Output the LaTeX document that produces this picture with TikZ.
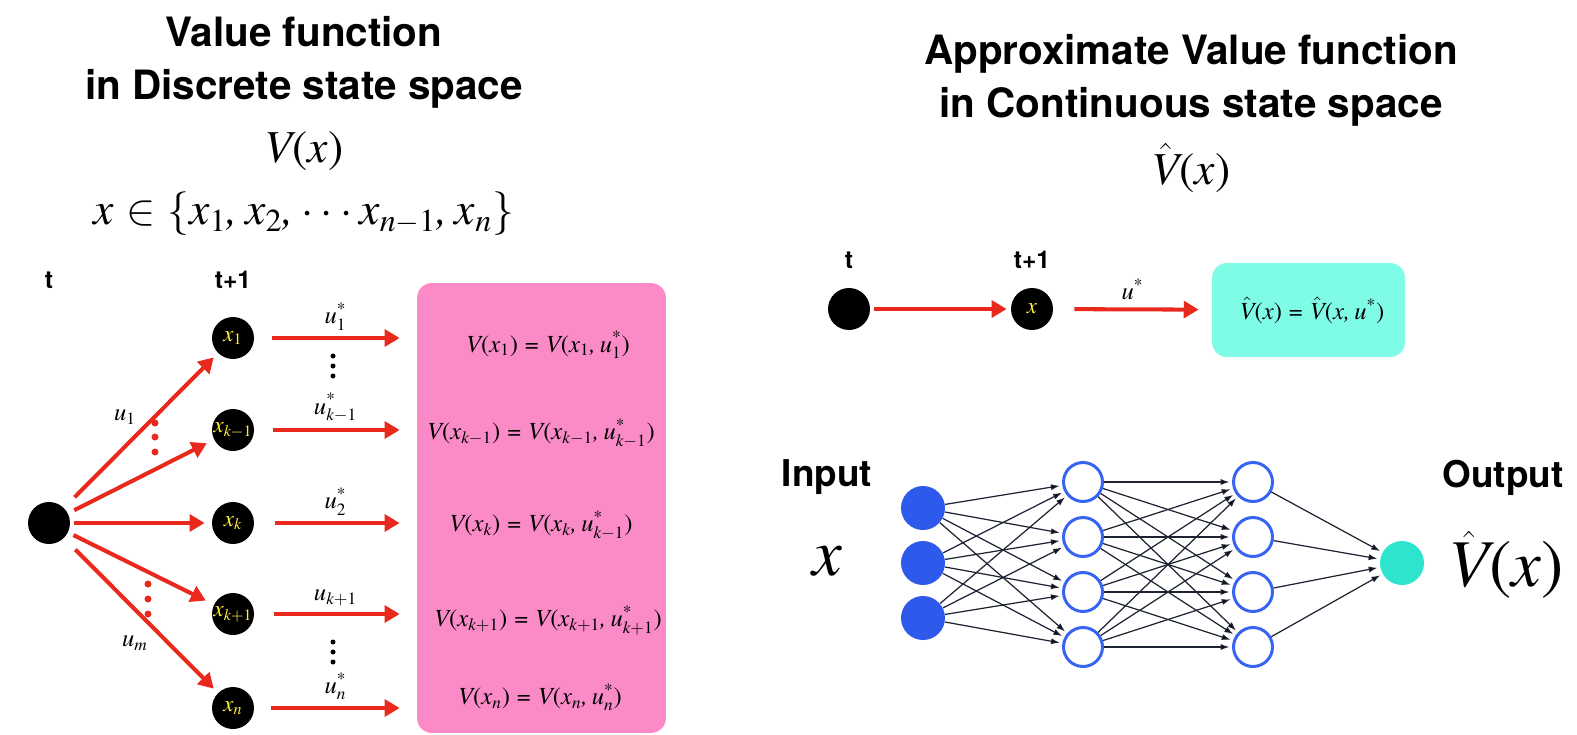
\documentclass[tikz,border=0pt]{standalone}
\usepackage{amsmath}
\usepackage[no-math]{fontspec}
\newfontfamily\headfont{TeX Gyre Heros}
\newfontfamily\letterfont{TeX Gyre Termes}[NFSSFamily=termes]
\DeclareSymbolFont{letters}{TU}{termes}{m}{it}
\DeclareSymbolFont{termesup}{TU}{termes}{m}{n}
\DeclareMathSymbol{*}{\mathord}{termesup}{"2A}
\DeclareMathSymbol{(}{\mathopen}{termesup}{"28}
\DeclareMathSymbol{)}{\mathclose}{termesup}{"29}
\DeclareMathSymbol{=}{\mathrel}{termesup}{"3D}
\DeclareMathSymbol{1}{\mathalpha}{termesup}{"31}
\DeclareMathSymbol{2}{\mathalpha}{termesup}{"32}
\mathcode`\,="612C
\usetikzlibrary{arrows.meta,positioning}

\begin{document}
\begin{tikzpicture}[x=0.02cm, y=-0.02cm,
    title/.style={font=\headfont\bfseries\fontsize{23}{30}\selectfont, align=center},
    timelabel/.style={font=\headfont\bfseries\fontsize{14}{16}\selectfont, anchor=base},
    nnlabel/.style={font=\headfont\bfseries\fontsize{21}{24}\selectfont},
    bigmath/.style={font=\fontsize{26}{29}\selectfont},
    hugemath/.style={font=\fontsize{38}{42}\selectfont},
    labelmath/.style={font=\fontsize{14}{16}\selectfont},
    eqmath/.style={font=\fontsize{14}{16}\selectfont},
    statenode/.style={circle, fill=black, minimum size=0.84cm, inner sep=0pt, text=stateyellow, font=\fontsize{13}{15}\selectfont},
    redarrow/.style={draw=arrowred, line width=2.3pt, -{Triangle[length=8.5pt,width=9.5pt]}},
    innode/.style={circle, fill=nodeblue, minimum size=0.88cm, inner sep=0pt},
    hidnode/.style={circle, draw=outblue, line width=1.7pt, fill=white, minimum size=0.78cm, inner sep=0pt},
    outnode/.style={circle, fill=outcyan, minimum size=0.88cm, inner sep=0pt},
    link/.style={draw=linkgray, line width=0.7pt, -{Latex[length=5pt,width=3.5pt]}, shorten >=1.5pt},
  ]

    % Colors
    \definecolor{arrowred}{RGB}{233,40,30}
    \definecolor{boxpink}{RGB}{250,139,198}
    \definecolor{boxcyan}{RGB}{127,252,229}
    \definecolor{nodeblue}{RGB}{45,90,235}
    \definecolor{outblue}{RGB}{55,100,240}
    \definecolor{outcyan}{RGB}{45,228,205}
    \definecolor{stateyellow}{RGB}{255,238,60}
    \definecolor{linkgray}{RGB}{30,35,50}

    \useasboundingbox (0,0) rectangle (1577,734);

    %draw the titles
    \node[title] (titleL) at (304,62) {Value function\\in Discrete state space};
    \node[bigmath] (vL) at (304,151) {$V(x)$};
    \node[bigmath] (setL) at (304,214) {$x \in \{x_1, x_2, \cdots x_{n-1}, x_n\}$};

    \node[title] (titleR) at (1191,80) {Approximate Value function\\in Continuous state space};
    \node[bigmath] (vR) at (1191,168) {$\hat{V}(x)$};

    %draw the discrete tree
    \node[timelabel] (tL) at (49,288) {t};
    \node[timelabel] (t1L) at (233,288) {t+1};

    \node[statenode] (s0) at (49,523) {};
    \node[statenode] (x1) at (233,338) {$x_1$};
    \node[statenode] (xkm) at (233,430) {$x_{k-1}$};
    \node[statenode] (xk) at (233,523) {$x_k$};
    \node[statenode] (xkp) at (233,614) {$x_{k+1}$};
    \node[statenode] (xn) at (233,708) {$x_n$};

    \draw[redarrow, shorten <=0.3cm, shorten >=0.12cm] (s0) -- (x1);
    \draw[redarrow, shorten <=0.14cm, shorten >=0.16cm] (s0) -- (xkm);
    \draw[redarrow, shorten <=0.08cm, shorten >=0.14cm] (s0) -- (xk);
    \draw[redarrow, shorten <=0.12cm, shorten >=0.18cm] (s0) -- (xkp);
    \draw[redarrow, shorten <=0.32cm, shorten >=0.12cm] (s0) -- (xn);

    \node[labelmath] (u1) at (125,417) {$u_1$};
    \node[labelmath] (um) at (135,643) {$u_m$};

    \fill[arrowred] (155,423) circle (3.5) (155,437) circle (3.5) (155,452) circle (3.5);
    \fill[arrowred] (148,584) circle (3.5) (148,599) circle (3.5) (148,614) circle (3.5);

    %draw the value box
    \node[fill=boxpink, rounded corners=0.3cm, minimum width=4.98cm, minimum height=9cm] (box) at (541.5,508) {};

    \draw[redarrow, shorten <=0.36cm, shorten >=0.34cm] (x1) -- node[labelmath, above] {$u_1^*$} (x1 -| box.west);
    \draw[redarrow, shorten <=0.38cm, shorten >=0.34cm] (xkm) -- node[labelmath, above] {$u_{k-1}^*$} (xkm -| box.west);
    \draw[redarrow, shorten <=0.42cm, shorten >=0.34cm] (xk) -- node[labelmath, above] {$u_2^*$} (xk -| box.west);
    \draw[redarrow, shorten <=0.4cm, shorten >=0.34cm] (xkp) -- node[labelmath, above] {$u_{k+1}$} (xkp -| box.west);
    \draw[redarrow, shorten <=0.34cm, shorten >=0.34cm] (xn) -- node[labelmath, above] {$u_n^*$} (xn -| box.west);

    \fill (333,356) circle (2.5) (333,366) circle (2.5) (333,376) circle (2.5);
    \fill (333,642) circle (2.5) (333,652) circle (2.5) (333,662) circle (2.5);

    \node[eqmath] (eq1) at (548,345) {$V(x_1) = V(x_1, u_1^*)$};
    \node[eqmath] (eq2) at (541,433) {$V(x_{k-1}) = V(x_{k-1}, u_{k-1}^*)$};
    \node[eqmath] (eq3) at (541,525) {$V(x_k) = V(x_k, u_{k-1}^*)$};
    \node[eqmath] (eq4) at (548,620) {$V(x_{k+1}) = V(x_{k+1}, u_{k+1}^*)$};
    \node[eqmath] (eq5) at (540,697) {$V(x_n) = V(x_n, u_n^*)$};

    %draw the continuous chain
    \node[timelabel] (tR) at (849,268) {t};
    \node[timelabel] (t1R) at (1032,268) {t+1};

    \node[statenode] (r0) at (849,309) {};
    \node[statenode] (rx) at (1032,309) {$x$};
    \node[fill=boxcyan, rounded corners=0.3cm, minimum width=3.86cm, minimum height=1.88cm] (cbox) at (1308.5,310) {};
    \node[eqmath] (ceq) at (1312,310) {$\hat{V}(x) = \hat{V}(x, u^*)$};

    \draw[redarrow, shorten <=0.08cm, shorten >=0.08cm] (r0) -- (rx);
    \draw[redarrow, shorten <=0.42cm, shorten >=0.26cm] (rx) -- node[labelmath, above=1pt] {$u^*$} (cbox);

    %draw the network
    \node[nnlabel] (inlabel) at (827,477) {Input};
    \node[hugemath] (inx) at (827,561) {$x$};
    \node[nnlabel] (outlabel) at (1503,478) {Output};
    \node[hugemath] (outv) at (1506,565) {$\hat{V}(x)$};

    \node[innode] (i1) at (923,508) {};
    \node[innode] (i2) at (923,563) {};
    \node[innode] (i3) at (923,618) {};

    \node[hidnode] (h1a) at (1083,482) {};
    \node[hidnode] (h1b) at (1083,537) {};
    \node[hidnode] (h1c) at (1083,592) {};
    \node[hidnode] (h1d) at (1083,647) {};

    \node[hidnode] (h2a) at (1253,482) {};
    \node[hidnode] (h2b) at (1253,537) {};
    \node[hidnode] (h2c) at (1253,592) {};
    \node[hidnode] (h2d) at (1253,647) {};

    \node[outnode] (out) at (1402,563) {};

    \draw[link] (i1) edge (h1a) edge (h1b) edge (h1c) edge (h1d);
    \draw[link] (i2) edge (h1a) edge (h1b) edge (h1c) edge (h1d);
    \draw[link] (i3) edge (h1a) edge (h1b) edge (h1c) edge (h1d);

    \draw[link] (h1a) edge (h2a) edge (h2b) edge (h2c) edge (h2d);
    \draw[link] (h1b) edge (h2a) edge (h2b) edge (h2c) edge (h2d);
    \draw[link] (h1c) edge (h2a) edge (h2b) edge (h2c) edge (h2d);
    \draw[link] (h1d) edge (h2a) edge (h2b) edge (h2c) edge (h2d);

    \draw[link] (h2a) edge (out) (h2b) edge (out) (h2c) edge (out) (h2d) edge (out);

\end{tikzpicture}
\end{document}
